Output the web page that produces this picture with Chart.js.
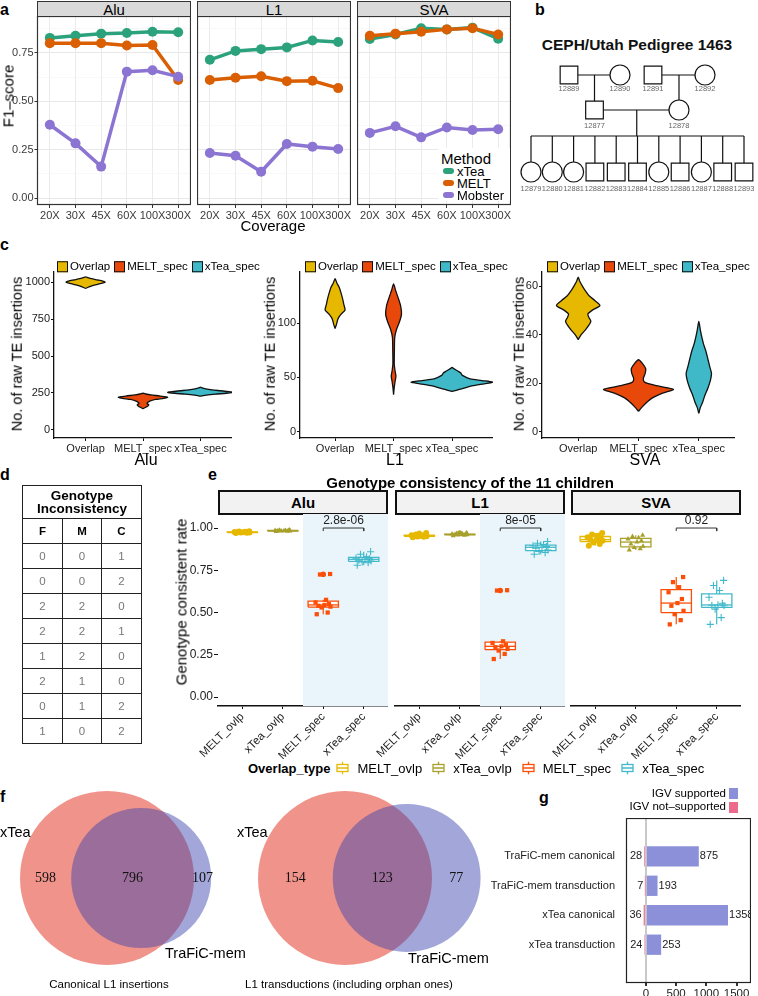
<!DOCTYPE html>
<html>
<head>
<meta charset="utf-8">
<title>xTea figure</title>
<script src="https://cdn.jsdelivr.net/npm/chart.js@4.4.1/dist/chart.umd.min.js"></script>
<style>
  html, body { margin: 0; padding: 0; background: #fff; }
  #page { position: relative; width: 758px; height: 996px; overflow: hidden; font-family: 'Liberation Sans', Arial, sans-serif; color: #000; }
  #page canvas { position: absolute; }
  .t { position: absolute; white-space: nowrap; line-height: 1; }
  .strip { position: absolute; box-sizing: border-box; display: flex; align-items: center; justify-content: center; }
  .lg { position: absolute; display: flex; align-items: center; white-space: nowrap; line-height: 1; }
  table.gt { position: absolute; border-collapse: collapse; table-layout: fixed; }
  table.gt td { border: 1.5px solid #222; text-align: center; padding: 0; }
</style>
</head>
<body>
<div id="page"></div>
<script>
// ---------- panel a: F1-score vs coverage ----------
const coverages = ['20X', '30X', '45X', '60X', '100X', '300X'];
const methods = ['xTea', 'MELT', 'Mobster'];
const aluXtea = [0.827, 0.838, 0.849, 0.852, 0.859, 0.856];
const aluMelt = [0.800, 0.800, 0.800, 0.788, 0.790, 0.610];
const aluMobster = [0.379, 0.283, 0.163, 0.653, 0.660, 0.627];
const l1Xtea = [0.714, 0.760, 0.769, 0.778, 0.814, 0.806];
const l1Melt = [0.610, 0.621, 0.629, 0.604, 0.606, 0.568];
const l1Mobster = [0.233, 0.219, 0.137, 0.280, 0.266, 0.254];
const svaXtea = [0.821, 0.845, 0.877, 0.871, 0.880, 0.823];
const svaMelt = [0.838, 0.849, 0.859, 0.871, 0.877, 0.845];
const svaMobster = [0.337, 0.371, 0.314, 0.365, 0.352, 0.356];

// ---------- panel b: pedigree ----------
const gen1Ids = ['12889', '12890', '12891', '12892'];
const gen1Sex = ['M', 'F', 'M', 'F'];
const gen2Ids = ['12877', '12878'];
const gen2Sex = ['M', 'F'];
const childIds = ['12879', '12880', '12881', '12882', '12883', '12884', '12885', '12886', '12887', '12888', '12893'];
const childSex = ['F', 'F', 'F', 'M', 'M', 'M', 'F', 'M', 'F', 'M', 'M'];

// ---------- panel c: violins, [count, half width in category units] ----------
const violinGroups = ['Overlap', 'MELT_spec', 'xTea_spec'];
const aluOverlapViolin = [[958,0],[968,0.06],[980,0.15],[990,0.25],[1000,0.34],[1008,0.30],[1016,0.20],[1024,0.10],[1031,0.04],[1036,0]];
const aluMeltViolin = [[143,0],[150,0.03],[160,0.08],[170,0.10],[178,0.07],[186,0.08],[196,0.13],[206,0.22],[214,0.36],[221,0.43],[229,0.30],[237,0.14],[243,0.05],[248,0]];
const aluXteaViolin = [[228,0],[235,0.10],[242,0.26],[248,0.45],[254,0.57],[259,0.50],[265,0.35],[271,0.20],[278,0.09],[284,0.03],[289,0]];
const l1OverlapViolin = [[95,0],[99,0.025],[104,0.05],[108,0.10],[112,0.17],[117,0.15],[122,0.13],[128,0.10],[133,0.07],[137,0.03],[141,0]];
const l1MeltViolin = [[34,0],[40,0.01],[46,0.025],[51,0.04],[56,0.025],[62,0.012],[75,0.014],[87,0.02],[94,0.05],[101,0.10],[108,0.135],[116,0.12],[123,0.08],[130,0.035],[136,0]];
const l1XteaViolin = [[37,0],[39,0.14],[42,0.34],[44,0.55],[45.5,0.70],[47,0.51],[48.5,0.31],[50,0.24],[52,0.17],[54,0.15],[56,0.09],[58,0.03],[59,0]];
const svaOverlapViolin = [[38,0],[40,0.05],[42,0.12],[44,0.18],[45.5,0.21],[47,0.18],[48.5,0.16],[50,0.23],[52,0.36],[54,0.28],[56,0.18],[58,0.12],[60,0.07],[62,0.025],[63.7,0]];
const svaMeltViolin = [[8.5,0],[10,0.05],[12,0.13],[14,0.23],[16,0.40],[17.5,0.58],[19,0.30],[20.5,0.10],[22,0.08],[24,0.11],[26,0.12],[28,0.07],[29.7,0]];
const svaXteaViolin = [[7.6,0],[10,0.025],[12,0.06],[15,0.10],[18,0.15],[21,0.19],[24,0.21],[27,0.18],[30,0.15],[33,0.12],[36,0.08],[39,0.05],[42,0.025],[45.5,0]];

// ---------- panel d: genotype inconsistency table ----------
const genoF = [0, 0, 2, 2, 1, 2, 0, 1];
const genoM = [0, 0, 2, 2, 2, 1, 1, 0];
const genoC = [1, 2, 0, 1, 0, 0, 2, 2];

// ---------- panel e: genotype consistency of the 11 children ----------
const overlapTypes = ['MELT_ovlp', 'xTea_ovlp', 'MELT_spec', 'xTea_spec'];
const aluMeltOvlp = [0.970, 0.972, 0.973, 0.974, 0.975, 0.975, 0.976, 0.977, 0.978, 0.979, 0.981];
const aluXteaOvlp = [0.980, 0.981, 0.982, 0.983, 0.984, 0.984, 0.985, 0.985, 0.986, 0.987, 0.988];
const aluMeltSpec = [0.490, 0.500, 0.530, 0.535, 0.540, 0.545, 0.550, 0.560, 0.575, 0.725, 0.728];
const aluXteaSpec = [0.780, 0.795, 0.800, 0.805, 0.810, 0.815, 0.818, 0.822, 0.830, 0.845, 0.860];
const l1MeltOvlp = [0.945, 0.948, 0.950, 0.952, 0.954, 0.955, 0.956, 0.957, 0.958, 0.962, 0.970];
const l1XteaOvlp = [0.955, 0.957, 0.959, 0.960, 0.961, 0.962, 0.963, 0.964, 0.965, 0.968, 0.972];
const l1MeltSpec = [0.225, 0.255, 0.275, 0.285, 0.295, 0.300, 0.310, 0.320, 0.330, 0.630, 0.632];
const l1XteaSpec = [0.845, 0.855, 0.862, 0.870, 0.880, 0.886, 0.890, 0.895, 0.902, 0.910, 0.920];
const svaMeltOvlp = [0.895, 0.905, 0.915, 0.925, 0.930, 0.931, 0.935, 0.945, 0.955, 0.962, 0.970];
const svaXteaOvlp = [0.870, 0.878, 0.885, 0.892, 0.905, 0.917, 0.925, 0.935, 0.942, 0.950, 0.958];
const svaMeltSpec = [0.430, 0.455, 0.490, 0.510, 0.540, 0.556, 0.580, 0.620, 0.650, 0.680, 0.710];
const svaXteaSpec = [0.430, 0.470, 0.520, 0.540, 0.543, 0.545, 0.555, 0.590, 0.630, 0.660, 0.690];
const pValues = ['2.8e-06', '8e-05', '0.92'];

// ---------- panel f: Venn counts ----------
const canonicalXteaOnly = 598, canonicalBoth = 796, canonicalTraficOnly = 107;
const transXteaOnly = 154, transBoth = 123, transTraficOnly = 77;

// ---------- panel g: IGV validation ----------
const igvCategories = ['TraFiC-mem canonical', 'TraFiC-mem transduction', 'xTea canonical', 'xTea transduction'];
const igvSupported = [875, 193, 1358, 253];
const igvNotSupported = [28, 7, 36, 24];
const igvTicks = [0, 500, 1000, 1500];

// ---------- helpers ----------
const page = document.getElementById('page');

function txt(str, x, y, css, anchor) {
  const d = document.createElement('div');
  d.className = 't';
  d.textContent = str;
  if (css) d.style.cssText = css;
  d.style.left = x + 'px';
  d.style.top = y + 'px';
  const shift = { l: '0', c: '-50%', r: '-100%', v: '-50%' }[anchor || 'c'];
  d.style.transform = `translate(${shift}, -50%)` + (anchor === 'v' ? ' rotate(-90deg)' : '');
  page.appendChild(d);
  return d;
}

function canvasAt(left, top, w, h) {
  const c = document.createElement('canvas');
  c.width = w; c.height = h;
  c.style.left = left + 'px'; c.style.top = top + 'px';
  c.style.width = w + 'px'; c.style.height = h + 'px';
  page.appendChild(c);
  return c;
}

function strip(name, left, top, w, h, css) {
  const s = document.createElement('div');
  s.className = 'strip';
  s.style.cssText = `left:${left}px;top:${top}px;width:${w}px;height:${h}px;` + css;
  s.textContent = name;
  page.appendChild(s);
}

// fixed axis thickness, no extra label padding pushed onto the plot area
function fitAxis(prop, size) {
  return s => {
    s[prop] = size;
    s.paddingTop = 0; s.paddingBottom = 0; s.paddingLeft = 0; s.paddingRight = 0;
  };
}

// frame, shaded band and text labels drawn in data coordinates
function decor(cfg) {
  return {
    id: 'decor',
    beforeDatasetsDraw(chart) {
      if (cfg.shadeFrom == null) return;
      const a = chart.chartArea, ctx = chart.ctx;
      const x0 = chart.scales.x.getPixelForValue(cfg.shadeFrom);
      ctx.save();
      ctx.fillStyle = cfg.shadeColor;
      ctx.fillRect(x0, a.top, a.right - x0, a.bottom - a.top);
      ctx.restore();
    },
    afterDatasetsDraw(chart) {
      const ctx = chart.ctx, a = chart.chartArea;
      ctx.save();
      (cfg.texts || []).forEach(it => {
        ctx.font = it.font;
        ctx.fillStyle = it.color || '#222';
        ctx.textAlign = it.align || 'center';
        ctx.textBaseline = 'middle';
        ctx.fillText(it.text, chart.scales.x.getPixelForValue(it.x) + (it.dx || 0),
          chart.scales.y.getPixelForValue(it.y) + (it.dy || 0));
      });
      if (cfg.frame) {
        ctx.strokeStyle = cfg.frame;
        ctx.lineWidth = cfg.frameWidth || 1;
        ctx.strokeRect(a.left + 0.5, a.top + 0.5, a.right - a.left - 1, a.bottom - a.top - 1);
      }
      ctx.restore();
    }
  };
}

Chart.defaults.animation = false;
Chart.defaults.responsive = false;
Chart.defaults.maintainAspectRatio = false;
Chart.defaults.devicePixelRatio = 1;
Chart.defaults.events = [];
Chart.defaults.layout.autoPadding = false;
Chart.defaults.font.family = "'Liberation Sans', Arial, sans-serif";
Chart.defaults.color = '#222';
Chart.defaults.plugins.legend.display = false;
Chart.defaults.plugins.tooltip.enabled = false;

// panel letters
[['a', 0, 9.5], ['b', 535, 9.5], ['c', 0, 244.5], ['d', 0, 474.5], ['e', 208, 474.5], ['f', 0, 796.5], ['g', 539, 798]]
  .forEach(([s, x, y]) => txt(s, x, y, 'font-weight:bold;font-size:16px', 'l'));

// ---------- panel a ----------
const methodColors = ['#2ba27c', '#d95f02', '#8c75d2'];
const isMajor = v => Math.abs(v / 0.25 - Math.round(v / 0.25)) < 1e-6;

function f1Panel(name, left, series, withY) {
  strip(name, left, 1, 154, 16, 'background:#d9d9d9;border:1px solid #333;font-size:15px;');
  const yW = withY ? 37 : 0;
  const cv = canvasAt(left - yW, 16, 154 + yW, 209);
  new Chart(cv, {
    type: 'line',
    data: {
      labels: coverages,
      datasets: series.map((vals, i) => ({
        label: methods[i], data: vals, borderColor: methodColors[i], backgroundColor: methodColors[i],
        borderWidth: 3.5, pointRadius: 5, pointBorderWidth: 0, order: 2 - i, clip: false
      }))
    },
    options: {
      scales: {
        x: {
          offset: true, border: { display: false },
          grid: { color: '#ebebeb', tickLength: 3, tickColor: '#333' },
          ticks: { color: '#3a3a3a', font: { size: 11 }, padding: 1, maxRotation: 0, autoSkip: false },
          afterFit: fitAxis('height', 20)
        },
        y: {
          min: -0.035, max: 0.94, border: { display: false },
          grid: {
            color: c => isMajor(c.tick.value) ? '#e8e8e8' : '#f4f4f4',
            lineWidth: c => isMajor(c.tick.value) ? 1 : 0.6,
            drawTicks: withY, tickLength: 2.5,
            tickColor: c => isMajor(c.tick.value) ? '#333' : 'rgba(0,0,0,0)'
          },
          ticks: {
            display: withY, stepSize: 0.125, includeBounds: false, color: '#3a3a3a', font: { size: 11 }, padding: 1,
            callback: v => isMajor(v) ? v.toFixed(2) : ''
          },
          afterFit: fitAxis('width', yW)
        }
      }
    },
    plugins: [decor({ frame: '#333', frameWidth: 1.2 })]
  });
}
f1Panel('Alu', 37, [aluXtea, aluMelt, aluMobster], true);
f1Panel('L1', 197, [l1Xtea, l1Melt, l1Mobster], false);
f1Panel('SVA', 357, [svaXtea, svaMelt, svaMobster], false);
txt('F1\u2013score', 7.5, 96, 'font-size:15px', 'v');
txt('Coverage', 273, 225, 'font-size:15px');

const methodLegend = document.createElement('div');
methodLegend.style.cssText = 'position:absolute;left:438px;top:148px;width:72px;height:53px;background:#fff;';
page.appendChild(methodLegend);
txt('Method', 441, 157.5, 'font-size:15px', 'l');
methods.forEach((m, i) => {
  const y = 171 + i * 11.8;
  const key = document.createElement('div');
  key.style.cssText = `position:absolute;left:443px;top:${y - 3}px;width:11px;height:6px;border-radius:3px;background:${methodColors[i]};`;
  page.appendChild(key);
  txt(m, 457, y, 'font-size:13px', 'l');
});

// ---------- panel b ----------
txt('CEPH/Utah Pedigree 1463', 637, 45, 'font-weight:bold;font-size:15.5px;color:#111');
(function pedigree() {
  const cv = canvasAt(500, 30, 258, 170);
  const gen1X = [569, 620, 653, 705];
  const gen2X = [(gen1X[0] + gen1X[1]) / 2, (gen1X[2] + gen1X[3]) / 2];
  const rowY = [75, 110, 172], sibY = 136, idGap = [13.5, 15.5, 16.5];
  const childX = childIds.map((_, i) => 531 + i * (744 - 531) / (childIds.length - 1));
  const hub = (gen2X[0] + gen2X[1]) / 2;
  const segs = [
    [[gen1X[0], rowY[0]], [gen1X[1], rowY[0]]],
    [[gen1X[2], rowY[0]], [gen1X[3], rowY[0]]],
    [[gen2X[0], rowY[0]], [gen2X[0], rowY[1]]],
    [[gen2X[1], rowY[0]], [gen2X[1], rowY[1]]],
    [[gen2X[0], rowY[1]], [gen2X[1], rowY[1]]],
    [[hub, rowY[1]], [hub, sibY]],
    [[childX[0], sibY], [childX[childX.length - 1], sibY]],
    ...childX.map(x => [[x, sibY], [x, rowY[2]]])
  ];
  const people = [
    ...gen1Ids.map((id, i) => ({ x: gen1X[i], y: rowY[0], id, sex: gen1Sex[i], g: 0 })),
    ...gen2Ids.map((id, i) => ({ x: gen2X[i], y: rowY[1], id, sex: gen2Sex[i], g: 1 })),
    ...childIds.map((id, i) => ({ x: childX[i], y: rowY[2], id, sex: childSex[i], g: 2 }))
  ];
  const datasets = segs.map(s => ({
    data: s.map(([x, y]) => ({ x, y })), showLine: true, borderColor: '#111', borderWidth: 1.2, pointRadius: 0, order: 1
  }));
  datasets.push({
    data: people.map(p => ({ x: p.x, y: p.y })),
    pointStyle: people.map(p => p.sex === 'M' ? 'rect' : 'circle'),
    pointRadius: people.map(p => p.sex === 'M' ? 12.5 : 10),
    backgroundColor: '#fff', borderColor: '#111', borderWidth: 1.2, order: 0, clip: false
  });
  new Chart(cv, {
    type: 'scatter',
    data: { datasets },
    options: {
      scales: {
        x: { type: 'linear', display: false, min: 500, max: 758 },
        y: { type: 'linear', display: false, min: 30, max: 200, reverse: true }
      }
    },
    plugins: [decor({ texts: people.map(p => ({ x: p.x, y: p.y + idGap[p.g], text: p.id, font: '7.5px "Liberation Sans"', color: '#666' })) })]
  });
})();

// ---------- panel c ----------
const violinColors = ['#e7b800', '#e8490b', '#3fb8c7'];

function violinPolygon(center, profile) {
  const right = profile.map(([v, w]) => ({ x: center + w, y: v }));
  const left = profile.slice().reverse().map(([v, w]) => ({ x: center - w, y: v }));
  return right.concat(left.slice(1));
}

function violinPanel(left, width, xMin, xMax, yMin, yMax, yStep, violins, title, titleX, yTitleX, legendX) {
  const cv = canvasAt(left, 271, width, 185);
  new Chart(cv, {
    type: 'scatter',
    data: {
      datasets: violins.map((prof, i) => ({
        data: violinPolygon(i + 1, prof), showLine: true, fill: 'shape', tension: 0.25,
        backgroundColor: violinColors[i], borderColor: '#111', borderWidth: 1.3, pointRadius: 0, clip: false
      }))
    },
    options: {
      scales: {
        x: {
          type: 'linear', min: xMin, max: xMax, border: { color: '#111', width: 1.3 },
          grid: { drawOnChartArea: false, tickLength: 3, tickColor: '#111' },
          ticks: { stepSize: 1, includeBounds: false, autoSkip: false, maxRotation: 0, font: { size: 11 }, padding: 1,
            callback: v => Number.isInteger(v) ? violinGroups[v - 1] : '' },
          afterFit: fitAxis('height', 18)
        },
        y: {
          min: yMin, max: yMax, border: { color: '#111', width: 1.3 },
          grid: { drawOnChartArea: false, tickLength: 3, tickColor: '#111' },
          ticks: { stepSize: yStep, includeBounds: false, font: { size: 11 }, padding: 1, callback: v => String(v) },
          afterFit: fitAxis('width', 54)
        }
      }
    }
  });
  txt(title, titleX, 460, 'font-size:16px');
  txt('No. of raw TE insertions', yTitleX, 354, 'font-size:14.5px', 'v');
  const lg = document.createElement('div');
  lg.className = 'lg';
  lg.style.cssText += `left:${legendX}px;top:266.5px;transform:translateY(-50%);font-size:11.5px;`;
  violinGroups.forEach((g, i) => {
    const sw = document.createElement('span');
    sw.style.cssText = `display:inline-block;width:11px;height:11px;box-sizing:border-box;border:1.3px solid #111;background:${violinColors[i]};margin-right:2px;`;
    const lb = document.createElement('span');
    lb.textContent = g;
    lb.style.marginRight = '4px';
    lg.appendChild(sw); lg.appendChild(lb);
  });
  page.appendChild(lg);
}
violinPanel(0, 232, 0.45, 3.55, -55, 1076, 250, [aluOverlapViolin, aluMeltViolin, aluXteaViolin], 'Alu', 146, 17, 57);
violinPanel(246, 247, 0.4, 3.7, -6, 148, 50, [l1OverlapViolin, l1MeltViolin, l1XteaViolin], 'L1', 395, 270, 305);
violinPanel(488, 247, 0.4, 3.6, -2.5, 66.2, 20, [svaOverlapViolin, svaMeltViolin, svaXteaViolin], 'SVA', 645, 519, 547);

// ---------- panel d ----------
(function genotypeTable() {
  const t = document.createElement('table');
  t.className = 'gt';
  t.style.cssText = 'left:22px;top:485px;width:119px;';
  let html = '<colgroup><col style="width:40px"><col style="width:39px"><col style="width:40px"></colgroup>';
  html += '<tr><td colspan="3" style="height:32px;font-weight:bold;font-size:13.5px;line-height:13px;">Genotype<br>Inconsistency</td></tr>';
  html += '<tr>' + ['F', 'M', 'C'].map(h => `<td style="height:24px;font-weight:bold;font-size:11.5px;">${h}</td>`).join('') + '</tr>';
  genoF.forEach((f, i) => {
    html += '<tr>' + [f, genoM[i], genoC[i]].map(v => `<td style="height:24px;font-size:11.5px;color:#777;">${v}</td>`).join('') + '</tr>';
  });
  t.innerHTML = html;
  page.appendChild(t);
})();

// ---------- panel e ----------
const overlapColors = ['#e7b800', '#a8a02c', '#fc4e07', '#41b9ca'];
const overlapShapes = ['circle', 'triangle', 'rect', 'cross'];
const jitterOffsets = [-0.16, 0.11, -0.04, 0.18, -0.12, 0.03, 0.14, -0.19, 0.07, -0.08, 0.17];

function quantile(sorted, p) {
  const h = (sorted.length - 1) * p, lo = Math.floor(h);
  const next = lo + 1 < sorted.length ? sorted[lo + 1] : sorted[lo];
  return sorted[lo] + (h - lo) * (next - sorted[lo]);
}
function boxStats(values) {
  const s = values.slice().sort((a, b) => a - b);
  const q1 = quantile(s, 0.25), med = quantile(s, 0.5), q3 = quantile(s, 0.75), iqr = q3 - q1;
  const inside = s.filter(v => v >= q1 - 1.5 * iqr && v <= q3 + 1.5 * iqr);
  return { q1, med, q3, lo: inside[0], hi: inside[inside.length - 1], out: s.filter(v => inside.indexOf(v) < 0) };
}

function consistencyPanel(name, plotLeft, yW, groups, shaded, pLabel) {
  strip(name, plotLeft, 490, 170, 25, 'background:#f2f2f2;border:2px solid #111;font-size:15px;font-weight:bold;');
  const cv = canvasAt(plotLeft - yW, 514, 170 + yW, 245);
  const w = 0.375, datasets = [];
  groups.forEach((vals, i) => {
    const x = i + 1, st = boxStats(vals), col = overlapColors[i];
    datasets.push({ data: [{ x, y: st.lo }, { x, y: st.q1 }, { x, y: null }, { x, y: st.q3 }, { x, y: st.hi }],
      showLine: true, borderColor: col, borderWidth: 1.2, pointRadius: 0, order: 5 });
    datasets.push({ data: [{ x: x - w, y: st.q1 }, { x: x + w, y: st.q1 }, { x: x + w, y: st.q3 }, { x: x - w, y: st.q3 }, { x: x - w, y: st.q1 }],
      showLine: true, fill: 'shape', backgroundColor: '#fff', borderColor: col, borderWidth: 1.3, pointRadius: 0, order: 4 });
    datasets.push({ data: [{ x: x - w, y: st.med }, { x: x + w, y: st.med }],
      showLine: true, borderColor: col, borderWidth: 1.3, pointRadius: 0, order: 3 });
    datasets.push({ data: st.out.map(v => ({ x, y: v })), pointStyle: 'circle', pointRadius: 2.6,
      backgroundColor: col, borderWidth: 0, order: 2 });
    datasets.push({ data: vals.map((v, k) => ({ x: x + jitterOffsets[k], y: v })), pointStyle: overlapShapes[i],
      pointRadius: i === 3 ? 3.6 : 3, backgroundColor: col, borderColor: col, borderWidth: i === 3 ? 1.1 : 0, order: 1 });
  });
  datasets.push({ data: [{ x: 3, y: 0.982 }, { x: 3, y: 1.0 }, { x: 4, y: 1.0 }, { x: 4, y: 0.982 }],
    showLine: true, borderColor: '#333', borderWidth: 1, pointRadius: 0, order: 0 });
  new Chart(cv, {
    type: 'scatter',
    data: { datasets },
    options: {
      scales: {
        x: {
          type: 'linear', min: 0.4, max: 4.6, border: { color: '#111', width: 1.6 },
          grid: { drawOnChartArea: false, tickLength: 3, tickColor: '#111' },
          ticks: { stepSize: 1, includeBounds: false, autoSkip: false, minRotation: 45, maxRotation: 45,
            font: { size: 11.5 }, padding: 1, callback: v => Number.isInteger(v) ? overlapTypes[v - 1] : '' },
          afterFit: fitAxis('height', 53)
        },
        y: {
          min: -0.053, max: 1.083, border: { display: false },
          grid: { display: yW > 30, drawOnChartArea: false, tickLength: 4, tickColor: '#111' },
          ticks: { display: yW > 30, stepSize: 0.25, includeBounds: false, font: { size: 12 }, padding: 1,
            callback: v => v.toFixed(2) },
          afterFit: fitAxis('width', yW)
        }
      }
    },
    plugins: [decor({
      shadeFrom: shaded ? 2.5 : null, shadeColor: '#eaf4fb',
      texts: [{ x: 3.5, y: 1.045, text: pLabel, font: '12px "Liberation Sans"', color: '#222' }]
    })]
  });
}
txt('Genotype consistency of the 11 children', 470, 482, 'font-weight:bold;font-size:15px');
consistencyPanel('Alu', 218, 52, [aluMeltOvlp, aluXteaOvlp, aluMeltSpec, aluXteaSpec], true, pValues[0]);
consistencyPanel('L1', 395, 25, [l1MeltOvlp, l1XteaOvlp, l1MeltSpec, l1XteaSpec], true, pValues[1]);
consistencyPanel('SVA', 571, 25, [svaMeltOvlp, svaXteaOvlp, svaMeltSpec, svaXteaSpec], false, pValues[2]);
txt('Genotype consistent rate', 181, 602, 'font-size:15px', 'v');

(function overlapLegend() {
  const lg = document.createElement('div');
  lg.className = 'lg';
  lg.style.cssText += 'left:248px;top:768px;transform:translateY(-50%);font-size:13px;';
  const head = document.createElement('span');
  head.textContent = 'Overlap_type';
  head.style.cssText = 'font-weight:bold;margin-right:6px;';
  lg.appendChild(head);
  overlapTypes.forEach((t, i) => {
    const c = overlapColors[i];
    const ic = document.createElement('span');
    ic.innerHTML = `<svg width="13" height="13" style="display:block"><line x1="6.5" y1="0" x2="6.5" y2="13" stroke="${c}" stroke-width="1.3"/><rect x="1" y="3" width="11" height="7" fill="#fff" stroke="${c}" stroke-width="1.3"/><line x1="1" y1="6.5" x2="12" y2="6.5" stroke="${c}" stroke-width="1.3"/></svg>`;
    ic.style.marginRight = '8px';
    const lb = document.createElement('span');
    lb.textContent = t;
    lb.style.marginRight = '10px';
    lg.appendChild(ic); lg.appendChild(lb);
  });
  page.appendChild(lg);
})();

// ---------- panel f ----------
function lensArea(r1, r2, d) {
  if (d >= r1 + r2) return 0;
  if (d <= Math.abs(r1 - r2)) return Math.PI * Math.min(r1, r2) ** 2;
  const a = r1 * r1 * Math.acos((d * d + r1 * r1 - r2 * r2) / (2 * d * r1));
  const b = r2 * r2 * Math.acos((d * d + r2 * r2 - r1 * r1) / (2 * d * r2));
  const c = 0.5 * Math.sqrt((-d + r1 + r2) * (d + r1 - r2) * (d - r1 + r2) * (d + r1 + r2));
  return a + b - c;
}
function solveDistance(r1, r2, target) {
  let lo = Math.abs(r1 - r2), hi = r1 + r2;
  for (let k = 0; k < 60; k++) {
    const mid = (lo + hi) / 2;
    if (lensArea(r1, r2, mid) > target) lo = mid; else hi = mid;
  }
  return (lo + hi) / 2;
}

(function venns() {
  const cv = canvasAt(0, 780, 500, 200);
  const rMax = 87, cy = 878;
  const sets = [
    { cx: 107, a: canonicalXteaOnly, both: canonicalBoth, b: canonicalTraficOnly },
    { cx: 345, a: transXteaOnly, both: transBoth, b: transTraficOnly }
  ];
  const red = [], blue = [], texts = [];
  sets.forEach(s => {
    const nA = s.a + s.both, nB = s.b + s.both;
    const rA = rMax, rB = rMax * Math.sqrt(nB / nA);
    const d = solveDistance(rA, rB, Math.PI * rA * rA * s.both / nA);
    red.push({ x: s.cx, y: cy, r: rA });
    blue.push({ x: s.cx + d, y: cy, r: rB });
    const font = '14px "Liberation Serif"';
    texts.push({ x: ((s.cx - rA) + (s.cx + d - rB)) / 2, y: cy, text: String(s.a), font, color: '#111' });
    texts.push({ x: ((s.cx + d - rB) + (s.cx + rA)) / 2, y: cy, text: String(s.both), font, color: '#111' });
    texts.push({ x: ((s.cx + rA) + (s.cx + d + rB)) / 2, y: cy, text: String(s.b), font, color: '#111' });
  });
  new Chart(cv, {
    type: 'bubble',
    data: {
      datasets: [
        { data: red, backgroundColor: 'rgba(230,75,60,0.6)', borderWidth: 0, clip: false, order: 2 },
        { data: blue, backgroundColor: 'rgba(63,70,174,0.48)', borderWidth: 0, clip: false, order: 1 }
      ]
    },
    options: {
      scales: {
        x: { type: 'linear', display: false, min: 0, max: 500 },
        y: { type: 'linear', display: false, min: 780, max: 980, reverse: true }
      }
    },
    plugins: [decor({ texts })]
  });
})();
txt('xTea', 0, 832, 'font-size:14.5px', 'l');
txt('TraFiC-mem', 165, 953, 'font-size:14.5px', 'l');
txt('Canonical L1 insertions', 109, 985, 'font-size:11.5px');
txt('xTea', 237, 832, 'font-size:14.5px', 'l');
txt('TraFiC-mem', 408, 958, 'font-size:14.5px', 'l');
txt('L1 transductions (including orphan ones)', 245, 985, 'font-size:11.5px', 'l');

// ---------- panel g ----------
const igvColors = ['#8b90d8', '#ec6a8c'];
(function igvChart() {
  const cv = canvasAt(460, 818, 291, 178);
  const texts = [];
  igvSupported.forEach((v, i) => texts.push({ x: v, y: i + 1, dx: 1, text: String(v), align: 'left', font: '11px "Liberation Sans"' }));
  igvNotSupported.forEach((v, i) => texts.push({ x: -v, y: i + 1, dx: -2, text: String(v), align: 'right', font: '11px "Liberation Sans"' }));
  new Chart(cv, {
    type: 'bar',
    data: {
      datasets: [
        { data: igvSupported.map((v, i) => ({ x: v, y: i + 1 })), backgroundColor: igvColors[0], grouped: false },
        { data: igvNotSupported.map((v, i) => ({ x: -v, y: i + 1 })), backgroundColor: igvColors[1], grouped: false }
      ]
    },
    options: {
      indexAxis: 'y',
      barPercentage: 0.69, categoryPercentage: 1,
      scales: {
        x: {
          type: 'linear', min: -328, max: 1738, border: { display: false },
          grid: { color: c => c.tick.value === 0 ? '#c9c9c9' : 'rgba(0,0,0,0)', lineWidth: 2, tickLength: 3, tickColor: '#333' },
          ticks: { maxRotation: 0, autoSkip: false, font: { size: 11.5 }, padding: 1, callback: v => String(v) },
          afterBuildTicks: s => { s.ticks = igvTicks.map(v => ({ value: v })); },
          afterFit: fitAxis('height', 13)
        },
        y: {
          type: 'linear', min: 0.4, max: 4.6, reverse: true, border: { display: false },
          grid: { display: false },
          ticks: { stepSize: 1, includeBounds: false, font: { size: 11 }, padding: 3,
            callback: v => Number.isInteger(v) ? igvCategories[v - 1] : '' },
          afterFit: fitAxis('width', 166)
        }
      }
    },
    plugins: [decor({ frame: '#222', frameWidth: 1.2, texts })]
  });
})();
[['IGV supported', 793.5, igvColors[0]], ['IGV not\u2013supported', 807, igvColors[1]]].forEach(([s, y, c]) => {
  txt(s, 726, y, 'font-size:11.5px', 'r');
  const sw = document.createElement('div');
  sw.style.cssText = `position:absolute;left:729px;top:${y - 5.5}px;width:9px;height:11px;background:${c};`;
  page.appendChild(sw);
});
</script>
</body>
</html>
